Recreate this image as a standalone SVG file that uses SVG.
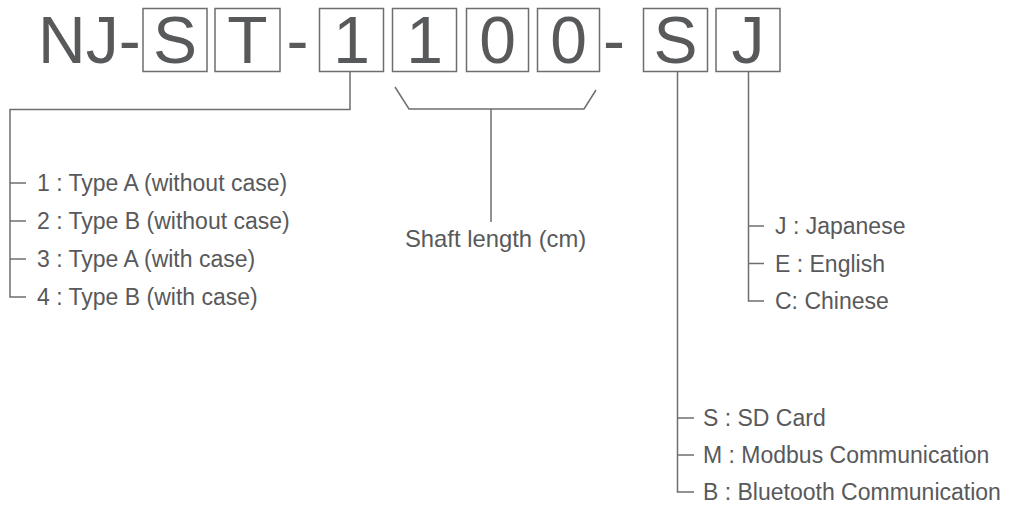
<svg xmlns="http://www.w3.org/2000/svg" width="1017" height="509" viewBox="0 0 1017 509">
<style>
.big{font-family:"Liberation Sans",Arial,sans-serif;font-size:66px;fill:#58595b}
.lbl{font-family:"Liberation Sans",Arial,sans-serif;font-size:23px;fill:#58595b}
.box{fill:none;stroke:#6d6e71;stroke-width:1.5}
.ln{fill:none;stroke:#6d6e71;stroke-width:1.5}
.mid{text-anchor:middle}
</style>
<rect width="1017" height="509" fill="#ffffff"/>
<g id="code">
<text class="big" x="38" y="63">NJ-</text>
<text class="big mid" x="297.5" y="63">-</text>
<text class="big mid" x="614" y="63">-</text>
</g>
<g id="box-s1"><rect class="box" x="143" y="8.5" width="64" height="63"/><text class="big mid" x="175" y="63">S</text></g>
<g id="box-t"><rect class="box" x="215" y="8.5" width="65" height="63"/><text class="big mid" x="247.5" y="63">T</text></g>
<g id="box-type"><rect class="box" x="319.5" y="8.5" width="64" height="63"/><text class="big mid" x="351.5" y="63">1</text></g>
<g id="box-len1"><rect class="box" x="392.5" y="8.5" width="64" height="63"/><text class="big mid" x="424.5" y="63">1</text></g>
<g id="box-len2"><rect class="box" x="466.5" y="8.5" width="62" height="63"/><text class="big mid" x="497.5" y="63">0</text></g>
<g id="box-len3"><rect class="box" x="537.5" y="8.5" width="62" height="63"/><text class="big mid" x="568.5" y="63">0</text></g>
<g id="box-s2"><rect class="box" x="643.5" y="8.5" width="64" height="63"/><text class="big mid" x="675.5" y="63">S</text></g>
<g id="box-j"><rect class="box" x="716" y="8.5" width="64" height="63"/><text class="big mid" x="748" y="63">J</text></g>
<g id="connectors">
<polyline class="ln" points="350,71.5 350,109.5 10,109.5 10,297 26,297"/>
<line class="ln" x1="10" y1="183" x2="26" y2="183"/>
<line class="ln" x1="10" y1="221" x2="26" y2="221"/>
<line class="ln" x1="10" y1="259" x2="26" y2="259"/>
<polyline class="ln" points="395,87 409,109 584,109 596,90"/>
<line class="ln" x1="491" y1="109" x2="491" y2="222"/>
<polyline class="ln" points="677.5,71.5 677.5,492 694,492"/>
<line class="ln" x1="677.5" y1="418" x2="694" y2="418"/>
<line class="ln" x1="677.5" y1="455" x2="694" y2="455"/>
<polyline class="ln" points="748.5,71.5 748.5,301 764,301"/>
<line class="ln" x1="748.5" y1="226" x2="764" y2="226"/>
<line class="ln" x1="748.5" y1="263.5" x2="764" y2="263.5"/>
</g>
<g id="type-options">
<text class="lbl" x="37" y="191">1 : Type A (without case)</text>
<text class="lbl" x="37" y="229">2 : Type B (without case)</text>
<text class="lbl" x="37" y="267">3 : Type A (with case)</text>
<text class="lbl" x="37" y="305">4 : Type B (with case)</text>
</g>
<g id="shaft-label"><text class="lbl" x="405" y="247" style="font-size:23.8px">Shaft length (cm)</text></g>
<g id="lang-options">
<text class="lbl" x="775" y="234">J : Japanese</text>
<text class="lbl" x="775" y="271.5">E : English</text>
<text class="lbl" x="775" y="309">C: Chinese</text>
</g>
<g id="comm-options">
<text class="lbl" x="703" y="426">S : SD Card</text>
<text class="lbl" x="703" y="463">M : Modbus Communication</text>
<text class="lbl" x="703" y="500">B : Bluetooth Communication</text>
</g>
</svg>
